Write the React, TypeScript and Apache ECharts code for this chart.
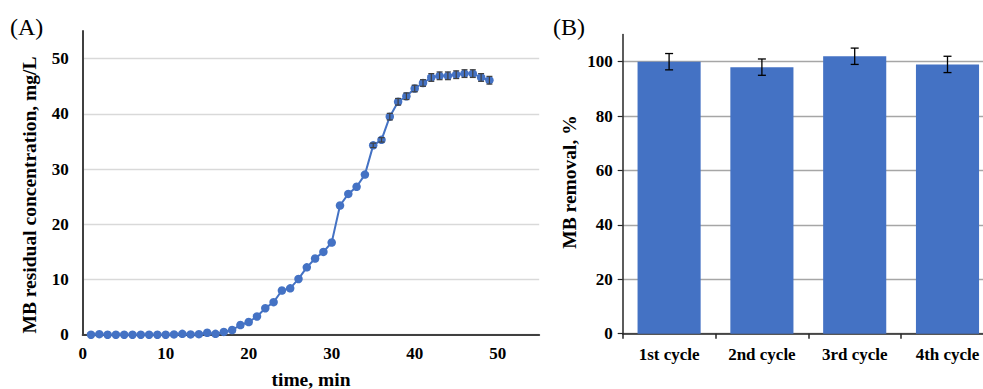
import React, { useEffect, useRef } from "react";
import * as echarts from "echarts";

const timeMin = [1, 2, 3, 4, 5, 6, 7, 8, 9, 10, 11, 12, 13, 14, 15, 16, 17, 18, 19, 20, 21, 22, 23, 24, 25, 26, 27, 28, 29, 30, 31, 32, 33, 34, 35, 36, 37, 38, 39, 40, 41, 42, 43, 44, 45, 46, 47, 48, 49];
const concentration = [0, 0.1, 0, 0, 0, 0, 0, 0, 0, 0, 0.05, 0.15, 0.05, 0.1, 0.35, 0.15, 0.5, 0.85, 1.75, 2.3, 3.3, 4.8, 5.9, 8.0, 8.4, 10.1, 12.2, 13.8, 15.0, 16.7, 23.4, 25.5, 26.8, 29.0, 34.3, 35.3, 39.5, 42.2, 43.2, 44.6, 45.6, 46.6, 46.9, 46.9, 47.1, 47.3, 47.3, 46.6, 46.1];
const concErr = [0, 0, 0, 0, 0, 0, 0, 0, 0, 0, 0, 0, 0, 0, 0, 0, 0, 0, 0, 0, 0, 0, 0, 0, 0, 0, 0, 0, 0, 0, 0, 0, 0, 0, 0.4, 0.4, 0.6, 0.6, 0.6, 0.6, 0.6, 0.7, 0.7, 0.7, 0.7, 0.7, 0.7, 0.7, 0.7];

const cycles = ["1st cycle", "2nd cycle", "3rd cycle", "4th cycle"];
const removal = [100, 98, 102, 99];
const removalErr = [3, 3, 3, 3];

const BLUE = "#4472C4";
const FONT = "'Liberation Serif', 'Times New Roman', serif";

export default function App() {
  const ref = useRef<HTMLDivElement>(null);

  useEffect(() => {
    if (!ref.current) return;
    const chart = echarts.init(ref.current, undefined, { renderer: "svg" });

    const tickLabel = { fontFamily: FONT, fontWeight: "bold" as const, fontSize: 17, color: "#000" };

    const errRender = (capHalf: number, color: string, width: number) => (params: any, api: any) => {
      const x = api.value(0);
      const v = api.value(1);
      const e = api.value(2);
      if (!e) return { type: "group", children: [] };
      const top = api.coord([x, v + e]);
      const bot = api.coord([x, v - e]);
      const st = { stroke: color, lineWidth: width };
      return {
        type: "group",
        children: [
          { type: "line", shape: { x1: top[0], y1: top[1], x2: bot[0], y2: bot[1] }, style: st },
          { type: "line", shape: { x1: top[0] - capHalf, y1: top[1], x2: top[0] + capHalf, y2: top[1] }, style: st },
          { type: "line", shape: { x1: bot[0] - capHalf, y1: bot[1], x2: bot[0] + capHalf, y2: bot[1] }, style: st },
        ],
      };
    };

    const option: any = {
      animation: false,
      backgroundColor: "#fff",
      grid: [
        { left: 82.7, top: 31.1, width: 456.5, height: 303.6 },
        { left: 622.7, top: 34.5, width: 371.2, height: 299.2 },
      ],
      xAxis: [
        {
          gridIndex: 0,
          type: "value",
          min: 0,
          max: 55,
          interval: 10,
          axisLine: { show: true, lineStyle: { color: "#404040", width: 2 } },
          axisTick: { show: false },
          splitLine: { show: false },
          axisLabel: { ...tickLabel, margin: 10, showMaxLabel: false },
        },
        {
          gridIndex: 1,
          type: "category",
          data: cycles,
          axisLine: { show: true, lineStyle: { color: "#262626", width: 1.5 } },
          axisTick: { show: true, length: 5, alignWithLabel: false, lineStyle: { color: "#262626", width: 1.5 } },
          axisLabel: { ...tickLabel, margin: 12 },
        },
      ],
      yAxis: [
        {
          gridIndex: 0,
          type: "value",
          min: 0,
          max: 55,
          interval: 10,
          axisLine: { show: true, lineStyle: { color: "#404040", width: 2 } },
          axisTick: { show: false },
          splitLine: { show: true, showMaxLine: false, lineStyle: { color: "#d9d9d9", width: 1.3 } },
          axisLabel: { ...tickLabel, margin: 14, showMaxLabel: false },
        },
        {
          gridIndex: 1,
          type: "value",
          min: 0,
          max: 110,
          interval: 20,
          axisLine: { show: true, lineStyle: { color: "#262626", width: 1.5 } },
          axisTick: { show: true, length: 5, lineStyle: { color: "#262626", width: 1.2 } },
          splitLine: { show: true, showMaxLine: false, lineStyle: { color: "#a6a6a6", width: 1.3 } },
          axisLabel: { ...tickLabel, margin: 10, showMaxLabel: false },
        },
      ],
      series: [
        {
          type: "line",
          xAxisIndex: 0,
          yAxisIndex: 0,
          data: timeMin.map((t, i) => [t, concentration[i]]),
          symbol: "circle",
          symbolSize: 8.5,
          lineStyle: { color: BLUE, width: 2 },
          itemStyle: { color: BLUE },
          z: 3,
        },
        {
          type: "custom",
          xAxisIndex: 0,
          yAxisIndex: 0,
          data: timeMin.map((t, i) => [t, concentration[i], concErr[i]]),
          renderItem: errRender(3, "#404040", 1.2),
          z: 4,
        },
        {
          type: "bar",
          xAxisIndex: 1,
          yAxisIndex: 1,
          data: removal,
          barCategoryGap: "32%",
          itemStyle: { color: BLUE },
          z: 2,
        },
        {
          type: "custom",
          xAxisIndex: 1,
          yAxisIndex: 1,
          data: removal.map((v, i) => [i, v, removalErr[i]]),
          renderItem: errRender(4, "#000", 1.3),
          z: 5,
        },
      ],
      graphic: [
        {
          type: "text",
          x: 10,
          y: 27,
          style: { text: "(A)", font: `24px ${FONT}`, fill: "#000", textVerticalAlign: "middle" },
        },
        {
          type: "text",
          x: 553,
          y: 27,
          style: { text: "(B)", font: `24px ${FONT}`, fill: "#000", textVerticalAlign: "middle" },
        },
        {
          type: "text",
          x: 29,
          y: 195,
          rotation: Math.PI / 2,
          style: {
            text: "MB residual concentration, mg/L",
            font: `bold 19.5px ${FONT}`,
            fill: "#000",
            textAlign: "center",
            textVerticalAlign: "middle",
          },
        },
        {
          type: "text",
          x: 569,
          y: 182,
          rotation: Math.PI / 2,
          style: {
            text: "MB removal, %",
            font: `bold 19.5px ${FONT}`,
            fill: "#000",
            textAlign: "center",
            textVerticalAlign: "middle",
          },
        },
        {
          type: "text",
          x: 311,
          y: 379,
          style: {
            text: "time, min",
            font: `bold 19.5px ${FONT}`,
            fill: "#000",
            textAlign: "center",
            textVerticalAlign: "middle",
          },
        },
      ],
    };

    chart.setOption(option);
    return () => chart.dispose();
  }, []);

  return (
    <div
      style={{ position: "absolute", left: 0, top: 0, width: 983, height: 389, overflow: "hidden", background: "#fff" }}
    >
      <div ref={ref} style={{ width: 996, height: 389 }} />
    </div>
  );
}
